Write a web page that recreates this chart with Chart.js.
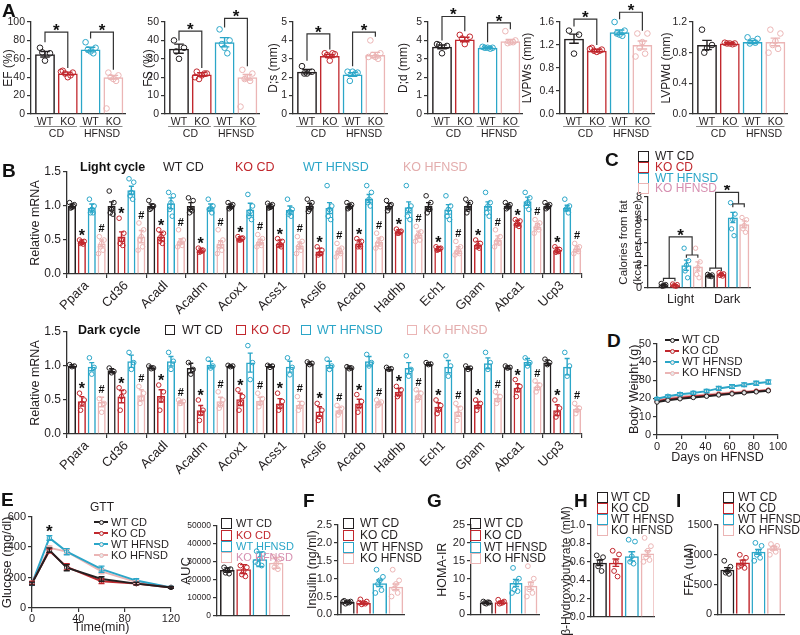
<!DOCTYPE html>
<html>
<head>
<meta charset="utf-8">
<title>Figure</title>
<script src="https://cdn.jsdelivr.net/npm/chart.js@4.4.1/dist/chart.umd.min.js"></script>
<style>
  body { margin: 0; background: #fff; }
  #stage { position: relative; width: 800px; height: 635px; overflow: hidden; background: #fff;
           font-family: 'Liberation Sans', Arial, sans-serif; color: #231f20; }
  #stage canvas { position: absolute; }
  .t { position: absolute; white-space: nowrap; line-height: 1; transform: translateY(-50%); }
  .sq { position: absolute; box-sizing: border-box; border: 1.5px solid; }
  .ln { position: absolute; height: 2px; }
  .pt { position: absolute; width: 5px; height: 5px; border-radius: 50%; box-sizing: border-box; border: 1px solid; background: #fff; }
</style>
</head>
<body>
<div id="stage"></div>
<script>
// ---------- data ----------
const groups = ['WT CD', 'KO CD', 'WT HFNSD', 'KO HFNSD'];

// A - echo
const efMean = [65, 44, 70, 40];
const efSem = [3, 1.5, 2.5, 2];
const efDots = [[72, 66, 58, 67], [47, 45, 40, 44, 42, 46], [78, 72, 68, 70, 66], [45, 42, 38, 40, 36, 6]];
const fsMean = [35.5, 21.5, 39, 20];
const fsSem = [2.5, 1, 2.5, 1.5];
const fsDots = [[40, 36, 30, 34], [23, 22, 21, 19, 22, 20], [46, 40, 36, 38, 33], [24, 22, 20, 19, 18, 4]];
const dsMean = [2.3, 3.15, 2.15, 3.2];
const dsSem = [0.12, 0.08, 0.1, 0.15];
const dsDots = [[2.6, 2.3, 2.2, 2.2], [3.3, 3.25, 2.9, 3.2, 3.3], [2.3, 2.25, 2.3, 1.8, 2.2], [4.0, 3.3, 3.1, 3.2, 3.0, 3.1]];
const ddMean = [3.65, 4.05, 3.6, 3.95];
const ddSem = [0.1, 0.12, 0.04, 0.1];
const ddDots = [[3.8, 3.7, 3.3, 3.75], [4.3, 4.2, 3.8, 4.1], [3.65, 3.6, 3.6, 3.6, 3.55], [4.5, 4.0, 3.9, 3.85, 3.9]];
const pwsMean = [1.31, 1.1, 1.42, 1.2];
const pwsSem = [0.08, 0.02, 0.04, 0.07];
const pwsDots = [[1.45, 1.38, 1.05], [1.15, 1.12, 1.08, 1.1, 1.1, 1.13], [1.6, 1.45, 1.38, 1.4, 1.36], [1.4, 1.4, 1.25, 1.15, 1.05, 1.0]];
const pwdMean = [0.9, 0.92, 0.94, 0.94];
const pwdSem = [0.06, 0.01, 0.02, 0.05];
const pwdDots = [[1.1, 0.9, 0.86, 0.8], [0.93, 0.92, 0.92, 0.92, 0.91], [1.0, 0.98, 0.95, 0.92, 0.93], [1.1, 1.05, 0.95, 0.9, 0.85, 0.8]];

// B - relative mRNA
const genes = ['Ppara', 'Cd36', 'Acadl', 'Acadm', 'Acox1', 'Acss1', 'Acsl6', 'Acacb', 'Hadhb', 'Ech1', 'Gpam', 'Abca1', 'Ucp3'];
const lightWtCd = [1.0, 1.0, 1.0, 1.0, 1.0, 1.0, 1.0, 1.0, 1.0, 1.0, 1.0, 1.0, 1.0];
const lightKoCd = [0.47, 0.55, 0.55, 0.35, 0.52, 0.45, 0.33, 0.45, 0.62, 0.37, 0.43, 0.75, 0.35];
const lightWtHf = [0.97, 1.23, 1.04, 0.98, 0.95, 0.94, 0.97, 1.11, 0.98, 0.95, 1.0, 1.07, 0.97];
const lightKoHf = [0.45, 0.55, 0.48, 0.44, 0.47, 0.42, 0.34, 0.47, 0.58, 0.35, 0.5, 0.7, 0.37];
const lightWtCdSem = [0.03, 0.06, 0.03, 0.05, 0.03, 0.03, 0.04, 0.03, 0.04, 0.05, 0.05, 0.03, 0.03];
const lightKoCdSem = [0.03, 0.07, 0.06, 0.03, 0.03, 0.05, 0.05, 0.05, 0.03, 0.03, 0.05, 0.04, 0.04];
const lightWtHfSem = [0.06, 0.06, 0.08, 0.05, 0.09, 0.06, 0.08, 0.06, 0.08, 0.07, 0.06, 0.06, 0.04];
const lightKoHfSem = [0.05, 0.09, 0.04, 0.05, 0.04, 0.05, 0.04, 0.06, 0.05, 0.05, 0.06, 0.04, 0.04];
const lightWtCdDots = [[1.05, 1.02, 0.98, 0.97, 1.0], [1.22, 1.05, 0.95, 0.9, 0.88], [1.08, 1.0, 0.97, 0.95, 1.0], [1.12, 1.08, 0.95, 0.9, 0.93],
  [1.05, 1.02, 0.98, 0.96, 0.99], [1.04, 1.02, 0.98, 0.97, 0.99], [1.1, 1.05, 0.95, 0.92, 0.98], [1.05, 1.02, 0.98, 0.96, 0.99],
  [1.08, 1.02, 0.97, 0.93, 1.0], [1.15, 1.05, 0.95, 0.9, 0.95], [1.1, 1.05, 0.95, 0.9, 1.0], [1.05, 1.02, 0.98, 0.96, 0.99], [1.05, 1.02, 0.98, 0.96, 0.99]];
const lightKoCdDots = [[0.5, 0.48, 0.46, 0.45, 0.44], [0.82, 0.6, 0.5, 0.45, 0.42], [0.65, 0.6, 0.55, 0.48, 0.45], [0.38, 0.35, 0.33, 0.32, 0.34],
  [0.55, 0.53, 0.5, 0.5, 0.52], [0.52, 0.48, 0.44, 0.42, 0.4], [0.4, 0.35, 0.3, 0.28, 0.3], [0.52, 0.48, 0.45, 0.4, 0.4],
  [0.66, 0.63, 0.6, 0.6, 0.62], [0.4, 0.38, 0.36, 0.35, 0.37], [0.5, 0.45, 0.42, 0.4, 0.38], [0.8, 0.78, 0.74, 0.72, 0.7], [0.4, 0.36, 0.34, 0.32, 0.33]];
const lightWtHfDots = [[1.1, 1.0, 0.95, 0.9, 0.9], [1.4, 1.35, 1.2, 1.15, 1.1], [1.2, 1.15, 1.05, 0.95, 0.85], [1.1, 1.0, 0.97, 0.95, 0.9],
  [1.17, 1.0, 0.92, 0.85, 0.8], [1.1, 0.95, 0.92, 0.88, 0.85], [1.3, 1.0, 0.95, 0.85, 0.8], [1.3, 1.2, 1.1, 1.05, 1.0],
  [1.3, 1.0, 0.95, 0.85, 0.8], [1.15, 1.0, 0.95, 0.85, 0.8], [1.2, 1.05, 1.0, 0.9, 0.85], [1.2, 1.12, 1.05, 1.0, 0.95], [1.1, 1.0, 0.97, 0.95, 0.9]];
const lightKoHfDots = [[0.55, 0.5, 0.45, 0.4, 0.35, 0.3], [0.75, 0.65, 0.55, 0.5, 0.4, 0.35], [0.65, 0.5, 0.48, 0.45, 0.42, 0.4],
  [0.65, 0.5, 0.45, 0.4, 0.35, 0.3], [0.58, 0.52, 0.48, 0.45, 0.42, 0.4], [0.55, 0.48, 0.42, 0.4, 0.35, 0.3], [0.45, 0.38, 0.35, 0.32, 0.3, 0.25],
  [0.6, 0.52, 0.48, 0.45, 0.4, 0.38], [0.7, 0.62, 0.58, 0.55, 0.5, 0.48], [0.48, 0.4, 0.35, 0.32, 0.3, 0.28], [0.65, 0.55, 0.5, 0.47, 0.45, 0.4],
  [0.8, 0.75, 0.72, 0.68, 0.65, 0.6], [0.45, 0.4, 0.38, 0.35, 0.33, 0.3]];
const darkWtCd = [1.0, 0.93, 0.98, 0.97, 1.0, 1.0, 1.04, 0.98, 0.96, 1.03, 0.97, 0.98, 1.05];
const darkKoCd = [0.48, 0.55, 0.56, 0.35, 0.51, 0.45, 0.33, 0.45, 0.62, 0.40, 0.43, 0.68, 0.35];
const darkWtHf = [0.99, 1.07, 1.07, 1.02, 1.05, 0.99, 1.02, 1.07, 0.97, 0.99, 1.04, 1.06, 0.99];
const darkKoHf = [0.47, 0.57, 0.47, 0.48, 0.49, 0.43, 0.35, 0.45, 0.57, 0.33, 0.53, 0.70, 0.37];
const darkWtCdSem = [0.02, 0.03, 0.02, 0.07, 0.01, 0.02, 0.02, 0.02, 0.02, 0.02, 0.02, 0.02, 0.04];
const darkKoCdSem = [0.07, 0.09, 0.09, 0.07, 0.09, 0.07, 0.07, 0.06, 0.05, 0.06, 0.04, 0.06, 0.08];
const darkWtHfSem = [0.06, 0.09, 0.07, 0.05, 0.14, 0.08, 0.05, 0.07, 0.08, 0.09, 0.08, 0.05, 0.12];
const darkKoHfSem = [0.07, 0.08, 0.02, 0.06, 0.05, 0.05, 0.04, 0.02, 0.06, 0.07, 0.05, 0.05, 0.04];
const darkWtCdDots = [[1.02, 1.0, 0.99], [0.97, 0.92, 0.9], [1.0, 0.97, 0.96], [1.05, 0.95, 0.88], [1.01, 1.0, 0.99], [1.01, 1.0, 0.98],
  [1.06, 1.04, 1.02], [0.99, 0.97, 0.96], [0.98, 0.96, 0.95], [1.05, 1.03, 1.02], [1.0, 0.97, 0.95], [1.0, 0.98, 0.97], [1.1, 1.05, 1.02]];
const darkKoCdDots = [[0.6, 0.5, 0.45, 0.35], [0.68, 0.62, 0.55, 0.35], [0.72, 0.62, 0.5, 0.35], [0.5, 0.35, 0.3, 0.2], [0.65, 0.55, 0.45, 0.35],
  [0.6, 0.48, 0.4, 0.35], [0.45, 0.35, 0.25, 0.2], [0.58, 0.48, 0.4, 0.32], [0.7, 0.65, 0.58, 0.55], [0.5, 0.42, 0.35, 0.3],
  [0.5, 0.45, 0.4, 0.35], [0.8, 0.7, 0.65, 0.55], [0.5, 0.38, 0.3, 0.25]];
const darkWtHfDots = [[1.12, 0.98, 0.88], [1.2, 1.05, 0.95], [1.2, 1.07, 0.95], [1.1, 1.0, 0.97], [1.3, 1.05, 0.8], [1.12, 0.98, 0.87],
  [1.1, 1.0, 0.95], [1.17, 1.05, 1.0], [1.15, 0.95, 0.85], [1.15, 1.0, 0.85], [1.2, 1.05, 0.95], [1.12, 1.05, 1.0], [1.2, 1.0, 0.85]];
const darkKoHfDots = [[0.52, 0.45, 0.32], [0.7, 0.6, 0.52, 0.45], [0.5, 0.48, 0.45, 0.45], [0.62, 0.5, 0.42, 0.38], [0.6, 0.52, 0.45, 0.4],
  [0.55, 0.45, 0.4, 0.35], [0.42, 0.38, 0.32, 0.28], [0.5, 0.47, 0.44, 0.42], [0.65, 0.6, 0.55, 0.5], [0.45, 0.38, 0.3, 0.2],
  [0.62, 0.55, 0.5, 0.45], [0.78, 0.72, 0.68, 0.62], [0.45, 0.38, 0.35, 0.3]];

// C - calories from fat
const calCats = ['Light', 'Dark'];
const calWtCd = [0.25, 1.1];
const calKoCd = [0.25, 1.2];
const calWtHf = [2.0, 6.2];
const calKoHf = [1.9, 5.6];
const calSem = [[0.08, 0.06], [0.05, 0.1], [0.45, 0.45], [0.4, 0.3]];
const calDots = [
  [[0.4, 0.3, 0.2, 0.15, 0.2], [1.2, 1.15, 1.1, 1.05, 1.0]],
  [[0.35, 0.3, 0.2, 0.2, 0.15], [1.35, 1.25, 1.2, 1.1, 1.05]],
  [[3.5, 2.4, 2.0, 1.5, 0.9], [7.5, 6.5, 6.0, 5.2, 4.6]],
  [[3.5, 2.3, 1.8, 1.2, 0.9], [6.2, 6.0, 5.5, 5.2, 4.9]]
];

// D - body weight
const days = [0, 9, 19, 30, 41, 51, 62, 72, 82, 92];
const bwWtCd = [18.0, 19.0, 19.8, 20.5, 21.2, 21.9, 22.5, 23.1, 23.6, 24.2];
const bwKoCd = [18.5, 19.5, 20.3, 21.0, 21.6, 22.2, 22.8, 23.3, 23.9, 24.5];
const bwWtHf = [19.8, 21.2, 22.3, 23.0, 24.0, 25.5, 26.5, 27.5, 28.3, 29.0];
const bwKoHf = [19.5, 20.3, 21.0, 21.6, 22.2, 22.8, 23.3, 23.8, 24.2, 24.6];
const bwWtHfSem = [0.6, 0.7, 0.8, 0.8, 0.9, 1.0, 1.0, 1.0, 1.1, 1.1];

// E - GTT
const gttTime = [0, 15, 30, 60, 90, 120];
const gttWtCd = [160, 380, 265, 190, 160, 135];
const gttKoCd = [165, 375, 270, 175, 160, 135];
const gttWtHf = [160, 460, 370, 255, 180, 135];
const gttKoHf = [165, 395, 370, 240, 170, 135];
const gttWtCdSem = [10, 15, 20, 15, 8, 5];
const gttKoCdSem = [10, 12, 20, 15, 8, 5];
const gttWtHfSem = [10, 15, 20, 20, 12, 6];
const gttKoHfSem = [10, 12, 15, 15, 10, 6];
const aucMean = [25500, 26000, 31500, 29500];
const aucSem = [1200, 2500, 4000, 3000];
const aucDots = [[27000, 26000, 25500, 24000, 23500], [28000, 27000, 25000, 23000, 22000],
                 [36000, 34500, 32000, 29000, 28000, 30000], [33000, 31500, 29000, 27000, 26000]];

// F-I
const insMean = [0.35, 0.32, 0.87, 0.77];
const insSem = [0.02, 0.03, 0.09, 0.08];
const insDots = [[0.38, 0.36, 0.34, 0.3, 0.33, 0.35], [0.42, 0.36, 0.32, 0.28, 0.3, 0.33],
                 [1.25, 1.05, 0.95, 0.85, 0.68, 0.6], [1.25, 0.95, 0.85, 0.72, 0.6, 0.5]];
const homaMean = [3.3, 3.4, 8.8, 8.0];
const homaSem = [0.2, 0.3, 1.0, 1.0];
const homaDots = [[3.6, 3.3, 3.0, 3.2, 3.4], [4.1, 3.6, 3.2, 3.0, 3.3], [13, 10, 9, 7, 6.5, 6], [13.5, 10, 8.5, 7, 6, 5]];
const bhbMean = [0.59, 0.59, 0.66, 0.69];
const bhbSem = [0.03, 0.04, 0.05, 0.03];
const bhbDots = [[0.67, 0.65, 0.6, 0.55, 0.5], [0.72, 0.68, 0.6, 0.5, 0.44], [0.84, 0.82, 0.66, 0.6, 0.58], [0.86, 0.77, 0.72, 0.65, 0.62, 0.6]];
const ffaMean = [750, 870, 1050, 1110];
const ffaSem = [35, 40, 40, 30];
const ffaDots = [[900, 800, 720, 700, 680], [1000, 950, 880, 820, 780, 800], [1200, 1150, 1050, 1000, 950, 900], [1180, 1150, 1120, 1100, 1050, 1000]];

// ---------- styling ----------
const FONT = "'Liberation Sans', Arial, sans-serif";
const AXIS = '#333';
const COL = ['#231f20', '#c1272d', '#2ba6c8', '#ebb5b5'];
const LEG_TXT = ['#231f20', '#c1272d', '#2ba6c8', '#d68fb0'];
const JIT = [-0.22, 0.22, 0, -0.12, 0.12, -0.3, 0.3];

Chart.defaults.font.family = FONT;
Chart.defaults.color = '#231f20';
Chart.defaults.animation = false;
Chart.defaults.responsive = false;
Chart.defaults.events = [];
Chart.defaults.plugins.legend.display = false;
Chart.defaults.plugins.tooltip.enabled = false;

const stage = document.getElementById('stage');

function drawMark(ctx, ch, x, yc, size) {
  ctx.font = 'bold ' + size + 'px ' + FONT;
  ctx.textAlign = 'center';
  ctx.textBaseline = 'alphabetic';
  ctx.fillStyle = '#111';
  ctx.fillText(ch, x, yc + (ch === '*' ? 0.57 : 0.36) * size);
}

// error bars, significance marks, brackets, group labels
const deco = {
  id: 'deco',
  afterDatasetsDraw(chart, args, opts) {
    const ctx = chart.ctx, xs = chart.scales.x, ys = chart.scales.y;
    ctx.save();
    chart.data.datasets.forEach((ds, di) => {
      if (!ds.errors) return;
      chart.getDatasetMeta(di).data.forEach((el, i) => {
        const raw = ds.data[i];
        const v = typeof raw === 'object' ? raw.y : raw;
        const e = ds.errors[i];
        const col = Array.isArray(ds.borderColor) ? ds.borderColor[i] : ds.borderColor;
        const half = el.width ? Math.max(2.5, el.width * 0.24) : 3;
        const top = ys.getPixelForValue(v + e), bot = ys.getPixelForValue(v - e);
        ctx.strokeStyle = col;
        ctx.lineWidth = 1.4;
        ctx.beginPath();
        ctx.moveTo(el.x, top); ctx.lineTo(el.x, bot);
        ctx.moveTo(el.x - half, top); ctx.lineTo(el.x + half, top);
        ctx.moveTo(el.x - half, bot); ctx.lineTo(el.x + half, bot);
        ctx.stroke();
        const m = Array.isArray(ds.marks) ? ds.marks[i] : null;
        if (m) {
          const base = ds.markBase ? ds.markBase[i] : v + e;
          drawMark(ctx, m, el.x, ys.getPixelForValue(base + 0.12), m === '*' ? 16 : 11);
        }
      });
    });
    ctx.strokeStyle = AXIS;
    ctx.lineWidth = 1.2;
    (opts.brackets || []).forEach(b => {
      const xa = xs.getPixelForValue(b.a), xb = xs.getPixelForValue(b.b), yt = ys.getPixelForValue(b.top);
      ctx.beginPath();
      ctx.moveTo(xa, ys.getPixelForValue(b.fa));
      ctx.lineTo(xa, yt); ctx.lineTo(xb, yt);
      ctx.lineTo(xb, ys.getPixelForValue(b.fb));
      ctx.stroke();
      if (b.star) drawMark(ctx, '*', (xa + xb) / 2, yt - 6, 17);
    });
    (opts.stars || []).forEach(s => drawMark(ctx, '*', xs.getPixelForValue(s.x), ys.getPixelForValue(s.y), 17));
    (opts.groups || []).forEach(g => {
      const unit = xs.getPixelForValue(2) - xs.getPixelForValue(1);
      const xa = xs.getPixelForValue(g.a) - 0.48 * unit, xb = xs.getPixelForValue(g.b) + 0.4 * unit;
      const base = chart.chartArea.bottom;
      ctx.strokeStyle = '#8a8a8a';
      ctx.lineWidth = 1;
      ctx.beginPath(); ctx.moveTo(xa, base + 12.5); ctx.lineTo(xb, base + 12.5); ctx.stroke();
      ctx.font = '10.5px ' + FONT;
      ctx.fillStyle = '#231f20';
      ctx.textAlign = 'center';
      ctx.textBaseline = 'middle';
      ctx.fillText(g.text, (xs.getPixelForValue(g.a) + xs.getPixelForValue(g.b)) / 2, base + 20);
    });
    ctx.restore();
  }
};
Chart.register(deco);

// place a chart so that its plot area is exactly [x0,x1] x [y0,y1] on the page
function makeChart(b, config) {
  const w = b.x1 - b.x0 + b.l + b.r, h = b.y1 - b.y0 + b.t + b.b;
  const cv = document.createElement('canvas');
  cv.width = w; cv.height = h;
  cv.style.left = (b.x0 - b.l) + 'px';
  cv.style.top = (b.y0 - b.t) + 'px';
  cv.style.width = w + 'px';
  cv.style.height = h + 'px';
  stage.appendChild(cv);
  const o = config.options;
  o.devicePixelRatio = 1;
  o.layout = { padding: { top: b.t, right: b.r, left: 0, bottom: 0 } };
  o.scales.x.afterFit = s => { s.height = b.b; };
  o.scales.y.afterFit = s => { s.width = b.l; };
  return new Chart(cv, config);
}

function yAxis(max, step, dec, title, tickSize, titleSize) {
  return {
    min: 0, max,
    ticks: { stepSize: step, font: { size: tickSize }, padding: 2, callback: v => Number(v).toFixed(dec) },
    grid: { drawOnChartArea: false, tickLength: 4, color: AXIS, lineWidth: 1.2 },
    border: { color: AXIS, width: 1.3 },
    title: { display: true, text: title, font: { size: titleSize, lineHeight: 1.2 }, padding: 0 }
  };
}

function barSet(means, xs, cols, sem, pct) {
  return {
    type: 'bar', order: 3,
    data: means.map((v, i) => ({ x: xs[i], y: v })),
    borderColor: cols, backgroundColor: 'rgba(255,255,255,0)', borderWidth: 1.5,
    errors: sem, categoryPercentage: 1, barPercentage: pct
  };
}

function dotSets(dotsByBar, xs, cols, r, jit) {
  return dotsByBar.map((arr, i) => ({
    type: 'scatter', order: 1, clip: false,
    data: arr.map((v, k) => ({ x: xs[i] + JIT[k % JIT.length] * jit, y: v })),
    borderColor: cols[i], pointBorderColor: cols[i], backgroundColor: 'rgba(255,255,255,0)',
    pointBackgroundColor: 'rgba(255,255,255,0)', pointRadius: r, pointBorderWidth: 1
  }));
}

function smallBars(b, o) {
  const xs = [1, 2, 3, 4];
  return makeChart(b, {
    type: 'bar',
    data: { datasets: [barSet(o.mean, xs, COL, o.sem, o.pct), ...dotSets(o.dots, xs, COL, o.r, o.jit || 1)] },
    options: {
      scales: {
        x: {
          type: 'linear', min: o.xmin, max: o.xmax, offset: false,
          afterBuildTicks: s => { s.ticks = xs.map(v => ({ value: v })); },
          ticks: { display: !!o.xLabels, autoSkip: false, maxRotation: 0, padding: 2, font: { size: 10.5 },
                   callback: (v, i) => (o.xLabels ? o.xLabels[i] : '') },
          grid: { display: false, drawTicks: false },
          border: { color: AXIS, width: 1.3 }
        },
        y: yAxis(o.max, o.step, o.dec, o.title, o.tickSize || 11, o.titleSize || 12.5)
      },
      plugins: { deco: { brackets: o.brackets || [], groups: o.groups || [] } }
    }
  });
}

// ---------- A ----------
const echo = [
  { title: 'EF (%)', mean: efMean, sem: efSem, dots: efDots, max: 100, step: 20, dec: 0, axis: 31, l: 30,
    brackets: [{ a: 1, b: 2, top: 89, fa: 78, fb: 50, star: true }, { a: 3, b: 4, top: 89, fa: 82, fb: 48, star: true }] },
  { title: 'FS (%)', mean: fsMean, sem: fsSem, dots: fsDots, max: 50, step: 10, dec: 0, axis: 165, l: 24,
    brackets: [{ a: 1, b: 2, top: 45, fa: 40, fb: 25, star: true }, { a: 3, b: 4, top: 52, fa: 47, fb: 26, star: true }] },
  { title: 'D;s (mm)', mean: dsMean, sem: dsSem, dots: dsDots, max: 5, step: 1, dec: 0, axis: 293, l: 27,
    brackets: [{ a: 1, b: 2, top: 4.35, fa: 2.9, fb: 3.5, star: true }, { a: 3, b: 4, top: 4.45, fa: 2.6, fb: 4.2, star: true }] },
  { title: 'D;d (mm)', mean: ddMean, sem: ddSem, dots: ddDots, max: 5, step: 1, dec: 0, axis: 428, l: 32,
    brackets: [{ a: 1, b: 2, top: 5.3, fa: 4.0, fb: 4.5, star: true }, { a: 3, b: 4, top: 4.95, fa: 3.9, fb: 4.6, star: true }] },
  { title: 'LVPWs (mm)', mean: pwsMean, sem: pwsSem, dots: pwsDots, max: 1.6, step: 0.4, dec: 1, axis: 560, l: 40,
    brackets: [{ a: 1, b: 2, top: 1.65, fa: 1.52, fb: 1.2, star: true }, { a: 3, b: 4, top: 1.77, fa: 1.65, fb: 1.45, star: true }] },
  { title: 'LVPWd (mm)', mean: pwdMean, sem: pwdSem, dots: pwdDots, max: 1.2, step: 0.4, dec: 1, axis: 693, l: 34, brackets: [] }
];
echo.forEach(p => {
  smallBars({ x0: p.axis, x1: p.axis + 94, y0: 22, y1: 114, l: p.l, t: 22, r: 6, b: 28 }, {
    ...p, xmin: 0.386, xmax: 4.51, pct: 0.87, r: 2.8, jit: 1, tickSize: 10.5, titleSize: 12,
    xLabels: ['WT', 'KO', 'WT', 'KO'],
    groups: [{ a: 1, b: 2, text: 'CD' }, { a: 3, b: 4, text: 'HFNSD' }]
  });
});

// ---------- B ----------
function mrnaChart(y0, y1, sets, sems, dots) {
  const xs = [], means = [], errs = [], cols = [], marks = [], bases = [];
  const dotData = [[], [], [], []];
  sets.forEach((arr, g) => {
    arr.forEach((v, gi) => {
      const x = gi + (g - 1.5) * 0.25;
      xs.push(x); means.push(v); errs.push(sems[g][gi]); cols.push(COL[g]);
      marks.push(g === 1 ? '*' : (g === 3 ? '#' : null));
      bases.push(Math.max(v + sems[g][gi], ...dots[g][gi]));
      dots[g][gi].forEach((d, k) => dotData[g].push({ x: x + JIT[k % JIT.length] * 0.27, y: d }));
    });
  });
  const bars = barSet(means, xs, cols, errs, 0.82);
  bars.marks = marks;
  bars.markBase = bases;
  makeChart({ x0: 67, x1: 582, y0, y1, l: 39, t: 10, r: 10, b: 48 }, {
    type: 'bar',
    data: {
      datasets: [bars, ...dotData.map((d, g) => ({
        type: 'scatter', order: 1, clip: false, data: d,
        borderColor: COL[g], pointBorderColor: COL[g], backgroundColor: 'rgba(255,255,255,0)',
        pointBackgroundColor: 'rgba(255,255,255,0)', pointRadius: 2.3, pointBorderWidth: 1
      }))]
    },
    options: {
      scales: {
        x: {
          type: 'linear', min: -0.5, max: 12.5, offset: false,
          afterBuildTicks: s => { s.ticks = genes.map((g, i) => ({ value: i })); },
          ticks: { font: { size: 13 }, minRotation: 45, maxRotation: 45, autoSkip: false, padding: 0,
                   callback: (v, i) => genes[i] },
          grid: { display: true, drawOnChartArea: false, tickLength: 4, color: AXIS, lineWidth: 1.2 },
          border: { color: AXIS, width: 1.3 }
        },
        y: yAxis(1.5, 0.5, 1, 'Relative mRNA', 12, 12.5)
      }
    }
  });
}
mrnaChart(172, 274, [lightWtCd, lightKoCd, lightWtHf, lightKoHf], [lightWtCdSem, lightKoCdSem, lightWtHfSem, lightKoHfSem],
  [lightWtCdDots, lightKoCdDots, lightWtHfDots, lightKoHfDots]);
mrnaChart(332, 434, [darkWtCd, darkKoCd, darkWtHf, darkKoHf], [darkWtCdSem, darkKoCdSem, darkWtHfSem, darkKoHfSem],
  [darkWtCdDots, darkKoCdDots, darkWtHfDots, darkKoHfDots]);

// ---------- C ----------
(function () {
  const base = [1.35, 5.4];
  const calMean = [calWtCd, calKoCd, calWtHf, calKoHf];
  const xs = [], means = [], sems = [], cols = [], dots = [];
  calCats.forEach((c, ci) => {
    calMean.forEach((arr, g) => {
      xs.push(base[ci] + g); means.push(arr[ci]); sems.push(calSem[g][ci]);
      cols.push(COL[g]); dots.push(calDots[g][ci]);
    });
  });
  makeChart({ x0: 648, x1: 750, y0: 197, y1: 288, l: 31, t: 12, r: 6, b: 20 }, {
    type: 'bar',
    data: { datasets: [barSet(means, xs, cols, sems, 0.88), ...dotSets(dots, xs, cols, 2.2, 0.9)] },
    options: {
      scales: {
        x: {
          type: 'linear', min: 0, max: 8.9, offset: false,
          afterBuildTicks: s => { s.ticks = base.map(v => ({ value: v + 1.5 })); },
          ticks: { autoSkip: false, maxRotation: 0, padding: 4, font: { size: 12.5 }, callback: (v, i) => calCats[i] },
          grid: { display: false, drawTicks: false },
          border: { color: AXIS, width: 1.3 }
        },
        y: yAxis(8, 2, 0, ['Calories from fat', '(kcal per mouse)'], 11, 11.5)
      },
      plugins: {
        deco: {
          brackets: [
            { a: 1.35, b: 2.35, top: 0.85, fa: 0.6, fb: 0.6 },
            { a: 3.35, b: 4.35, top: 2.9, fa: 2.65, fb: 2.65 },
            { a: 1.85, b: 3.85, top: 4.5, fa: 0.85, fb: 2.9, star: true },
            { a: 5.4, b: 6.4, top: 1.75, fa: 1.5, fb: 1.5 },
            { a: 7.4, b: 8.4, top: 7.4, fa: 7.1, fb: 7.1 },
            { a: 5.9, b: 7.9, top: 8.4, fa: 1.75, fb: 7.4, star: true }
          ]
        }
      }
    }
  });
})();

// ---------- line charts ----------
function lineSet(xv, yv, col, order, sem) {
  return {
    data: xv.map((x, i) => ({ x, y: yv[i] })), borderColor: col, borderWidth: 2, order,
    pointRadius: 2.2, pointBorderColor: col, pointBackgroundColor: '#e8e8e8', pointBorderWidth: 1,
    tension: 0, clip: false, errors: sem || null
  };
}
function linearX(max, step, title, tickPad) {
  return {
    type: 'linear', min: 0, max,
    ticks: { stepSize: step, font: { size: 11 }, padding: tickPad, maxRotation: 0 },
    grid: { drawOnChartArea: false, tickLength: 4, color: AXIS, lineWidth: 1.2 },
    border: { color: AXIS, width: 1.3 },
    title: { display: true, text: title, font: { size: 12.5, lineHeight: 1.2 }, padding: 0 }
  };
}

// D
makeChart({ x0: 657, x1: 778, y0: 343, y1: 435, l: 30, t: 8, r: 14, b: 30 }, {
  type: 'line',
  data: { datasets: [
    lineSet(days, bwKoHf, COL[3], 4),
    lineSet(days, bwWtHf, COL[2], 3, bwWtHfSem),
    lineSet(days, bwKoCd, COL[1], 2),
    lineSet(days, bwWtCd, COL[0], 1)
  ] },
  options: { scales: { x: linearX(100, 20, 'Days on HFNSD', 1), y: yAxis(50, 10, 0, 'Body Weight (g)', 11, 12.5) } }
});

// E glucose
makeChart({ x0: 32, x1: 171, y0: 516, y1: 608, l: 32, t: 8, r: 14, b: 27 }, {
  type: 'line',
  data: { datasets: [
    lineSet(gttTime, gttKoHf, COL[3], 4, gttKoHfSem),
    lineSet(gttTime, gttWtHf, COL[2], 3, gttWtHfSem),
    lineSet(gttTime, gttKoCd, COL[1], 2, gttKoCdSem),
    lineSet(gttTime, gttWtCd, COL[0], 1, gttWtCdSem)
  ] },
  options: {
    scales: { x: linearX(120, 40, 'Time(min)', 0), y: yAxis(600, 200, 0, 'Glucose (mg/dl)', 11, 13) },
    plugins: { deco: { stars: [{ x: 15, y: 528 }] } }
  }
});

// E AUC and F-I
smallBars({ x0: 217, x1: 290, y0: 526, y1: 617, l: 38, t: 10, r: 4, b: 6 },
  { mean: aucMean, sem: aucSem, dots: aucDots, max: 50000, step: 10000, dec: 0, title: 'AUC',
    xmin: 0.364, xmax: 4.79, pct: 0.9, r: 2.4, jit: 0.9, tickSize: 8.5, titleSize: 13 });
smallBars({ x0: 338, x1: 405, y0: 525, y1: 617, l: 33, t: 10, r: 4, b: 6 },
  { mean: insMean, sem: insSem, dots: insDots, max: 2.5, step: 0.5, dec: 1, title: 'Insulin (ng/ml)',
    xmin: 0.42, xmax: 4.5, pct: 0.9, r: 2.4, jit: 0.9, tickSize: 11, titleSize: 12.5 });
smallBars({ x0: 471, x1: 540, y0: 525, y1: 617, l: 36, t: 10, r: 4, b: 6 },
  { mean: homaMean, sem: homaSem, dots: homaDots, max: 25, step: 5, dec: 0, title: 'HOMA-IR',
    xmin: -0.03, xmax: 4.55, pct: 0.88, r: 2.4, jit: 0.9, tickSize: 11, titleSize: 12.5 });
smallBars({ x0: 591, x1: 655, y0: 525, y1: 617, l: 32, t: 60, r: 4, b: 18 },
  { mean: bhbMean, sem: bhbSem, dots: bhbDots, max: 1.0, step: 0.2, dec: 1, title: 'β-Hydroxybutyrate (mM)',
    xmin: 0.444, xmax: 4.39, pct: 0.88, r: 2.4, jit: 0.9, tickSize: 11, titleSize: 12 });
smallBars({ x0: 718, x1: 785, y0: 525, y1: 617, l: 36, t: 10, r: 4, b: 6 },
  { mean: ffaMean, sem: ffaSem, dots: ffaDots, max: 1500, step: 500, dec: 0, title: 'FFA (uM)',
    xmin: 0.4, xmax: 4.64, pct: 0.9, r: 2.4, jit: 0.9, tickSize: 11, titleSize: 12.5 });

// ---------- text, legends ----------
function label(x, y, text, size, color, bold) {
  const d = document.createElement('div');
  d.className = 't';
  d.textContent = text;
  d.style.left = x + 'px';
  d.style.top = y + 'px';
  d.style.fontSize = size + 'px';
  d.style.color = color || '#231f20';
  if (bold) d.style.fontWeight = 'bold';
  stage.appendChild(d);
}
function square(x, y, color, s) {
  const d = document.createElement('div');
  d.className = 'sq';
  d.style.cssText = `left:${x}px;top:${y - s / 2}px;width:${s}px;height:${s}px;border-color:${color}`;
  stage.appendChild(d);
}
function lineKey(x, y, color) {
  const l = document.createElement('div');
  l.className = 'ln';
  l.style.cssText = `left:${x}px;top:${y - 1}px;width:14px;background:${color}`;
  stage.appendChild(l);
  const p = document.createElement('div');
  p.className = 'pt';
  p.style.cssText = `left:${x + 4.5}px;top:${y - 2.5}px;border-color:${color};background:#e8e8e8`;
  stage.appendChild(p);
}
function squareLegend(x, tx, ys, size, textCols) {
  groups.forEach((g, i) => {
    square(x, ys[i], COL[i], 11);
    label(tx, ys[i], g, size, textCols ? textCols[i] : '#231f20');
  });
}

// panel letters
[['A', 2, 10], ['B', 2, 170], ['C', 605, 159], ['D', 607, 340], ['E', 1, 499],
 ['F', 303, 500], ['G', 427, 500], ['H', 574, 500], ['I', 676, 500]].forEach(p => label(p[1], p[2], p[0], 19, '#111', true));

// B legends
label(80, 167, 'Light cycle', 12.5, '#111', true);
label(163, 167, 'WT CD', 12.5, COL[0]);
label(235, 167, 'KO CD', 12.5, COL[1]);
label(303, 167, 'WT HFNSD', 12.5, COL[2]);
label(403, 167, 'KO HFNSD', 12.5, '#e3adad');
label(78, 330, 'Dark cycle', 12.5, '#111', true);
[[165, 182], [236, 251], [301, 317], [407, 423]].forEach((p, i) => {
  square(p[0], 330, COL[i], 10);
  label(p[1], 330, groups[i], 12.5, i === 3 ? '#e3adad' : COL[i]);
});

// C legend
squareLegend(638, 655, [156, 167, 178, 188], 12, LEG_TXT);

// D legend
[340, 351, 362, 373].forEach((y, i) => { lineKey(665, y, COL[i]); label(682, y, groups[i], 11.5); });

// E legends
label(90, 507, 'GTT', 12);
[522, 533, 544, 555].forEach((y, i) => { lineKey(94, y, COL[i]); label(111, y, groups[i], 11); });
squareLegend(221, 236, [523, 535, 546, 557], 11, LEG_TXT);

// F-I legends
squareLegend(343, 360, [523, 535, 547, 558], 12);
squareLegend(470, 484, [523, 535, 547, 558], 12);
squareLegend(597, 611, [497, 508, 519, 530], 12);
squareLegend(723, 738, [497, 508, 519, 530], 12);
</script>
</body>
</html>
